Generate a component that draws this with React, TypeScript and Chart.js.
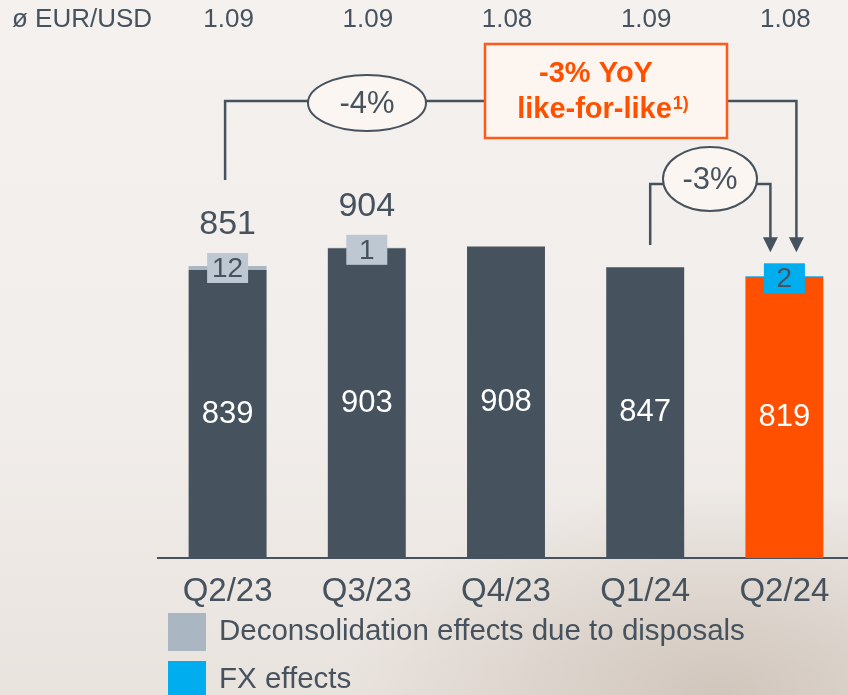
import React, { useEffect, useRef } from "react";
import { Chart, registerables } from "chart.js";
Chart.register(...registerables);

const categories = ["Q2/23", "Q3/23", "Q4/23", "Q1/24", "Q2/24"];
const fxRates = ["1.09", "1.09", "1.08", "1.09", "1.08"];
const fxRateTitle = "ø EUR/USD";
const baseValues = [839, 903, 908, 847, 819];
const deconsolidation = [12, 1, 0, 0, 0];
const fxEffects = [0, 0, 0, 0, 2];
const showTotal = [true, true, false, false, false];
const yoyChange = "-4%";
const qoqChange = "-3%";
const lflLine1 = "-3% YoY";
const lflLine2 = "like-for-like";
const lflNote = "1)";
const legendLabels = ["Deconsolidation effects due to disposals", "FX effects"];

const DARK = "#46535e";
const ORANGE = "#ff5000";
const GREY = "#aab6c1";
const GREY_BOX = "#bec8d2";
const BLUE = "#1aa9ea";
const BLUE_BOX = "#00adef";
const FONT = "'Liberation Sans', Arial, sans-serif";

const overlayPlugin = {
  id: "overlay",
  afterDatasetsDraw(chart: any) {
    const { ctx, scales } = chart;
    const x = scales.x;
    const y = scales.y;
    const xs = categories.map((_, i) => x.getPixelForValue(i));
    ctx.save();
    ctx.textAlign = "center";
    ctx.textBaseline = "middle";

    // FX rate row
    ctx.fillStyle = DARK;
    ctx.font = `26px ${FONT}`;
    ctx.textAlign = "left";
    ctx.fillText(fxRateTitle, 12, 20);
    ctx.textAlign = "center";
    fxRates.forEach((r, i) => ctx.fillText(r, xs[i] + 1, 20));

    // inside labels
    const meta = chart.getDatasetMeta(0);
    ctx.font = `31px ${FONT}`;
    ctx.fillStyle = "#ffffff";
    meta.data.forEach((bar: any, i: number) => {
      ctx.fillText(String(baseValues[i]), bar.x, (bar.y + bar.base) / 2);
    });

    // effect boxes
    const drawBox = (i: number, val: number, total: number, fill: string) => {
      const top = y.getPixelForValue(total);
      const cy = top + 2;
      ctx.fillStyle = fill;
      ctx.fillRect(xs[i] - 20.5, cy - 15, 41, 30);
      ctx.fillStyle = DARK;
      ctx.font = `28px ${FONT}`;
      ctx.fillText(String(val), xs[i], cy + 1);
    };
    categories.forEach((_, i) => {
      if (deconsolidation[i] > 0)
        drawBox(i, deconsolidation[i], baseValues[i] + deconsolidation[i], GREY_BOX);
      if (fxEffects[i] > 0)
        drawBox(i, fxEffects[i], baseValues[i] + deconsolidation[i] + fxEffects[i], BLUE_BOX);
    });

    // totals
    ctx.fillStyle = DARK;
    ctx.font = `34px ${FONT}`;
    categories.forEach((_, i) => {
      if (!showTotal[i]) return;
      const total = baseValues[i] + deconsolidation[i] + fxEffects[i];
      ctx.fillText(String(total), xs[i], y.getPixelForValue(total) - 41);
    });

    // connectors
    const last = categories.length - 1;
    const lastTop = y.getPixelForValue(baseValues[last] + deconsolidation[last] + fxEffects[last]);
    const arrowTip = lastTop - 24;
    ctx.strokeStyle = DARK;
    ctx.lineWidth = 2.5;
    ctx.lineJoin = "miter";
    const lineY = 101;
    const xA = xs[0] - 2.5;
    const xB = xs[last] + 12;
    ctx.beginPath();
    ctx.moveTo(xA, 180);
    ctx.lineTo(xA, lineY);
    ctx.lineTo(xB, lineY);
    ctx.lineTo(xB, arrowTip - 14);
    ctx.stroke();

    const lineY2 = 184;
    const xC = xs[3] + 5;
    const xD = xs[last] - 14;
    ctx.beginPath();
    ctx.moveTo(xC, 245);
    ctx.lineTo(xC, lineY2);
    ctx.lineTo(xD, lineY2);
    ctx.lineTo(xD, arrowTip - 14);
    ctx.stroke();

    const arrow = (ax: number) => {
      ctx.fillStyle = DARK;
      ctx.beginPath();
      ctx.moveTo(ax - 7.5, arrowTip - 15);
      ctx.lineTo(ax + 7.5, arrowTip - 15);
      ctx.lineTo(ax, arrowTip);
      ctx.closePath();
      ctx.fill();
    };
    arrow(xB);
    arrow(xD);

    // ellipses
    const ellipse = (cx: number, cy: number, rx: number, ry: number, text: string) => {
      ctx.beginPath();
      ctx.ellipse(cx, cy, rx, ry, 0, 0, Math.PI * 2);
      ctx.fillStyle = "#fcf6f2";
      ctx.fill();
      ctx.lineWidth = 2;
      ctx.strokeStyle = DARK;
      ctx.stroke();
      ctx.fillStyle = DARK;
      ctx.font = `31px ${FONT}`;
      ctx.fillText(text, cx, cy + 1);
    };
    ellipse(367, 103, 59, 28, yoyChange);
    ellipse(710, 179, 47, 32, qoqChange);

    // like-for-like box
    ctx.fillStyle = "#fdf5f0";
    ctx.fillRect(485, 44, 242, 94);
    ctx.strokeStyle = "#ff5a1a";
    ctx.lineWidth = 2.5;
    ctx.strokeRect(485, 44, 242, 94);
    ctx.fillStyle = ORANGE;
    ctx.font = `bold 29px ${FONT}`;
    ctx.fillText(lflLine1, 596, 74);
    const w2 = ctx.measureText(lflLine2).width;
    ctx.font = `bold 18px ${FONT}`;
    const wn = ctx.measureText(lflNote).width;
    const start = 603 - (w2 + wn + 1) / 2;
    ctx.textAlign = "left";
    ctx.font = `bold 29px ${FONT}`;
    ctx.fillText(lflLine2, start, 110);
    ctx.font = `bold 18px ${FONT}`;
    ctx.fillText(lflNote, start + w2 + 1, 104);

    // legend
    const legendColors = [GREY, BLUE_BOX];
    legendLabels.forEach((lab, i) => {
      const top = 613 + i * 48;
      ctx.fillStyle = legendColors[i];
      ctx.fillRect(168, top, 38, 38);
      ctx.fillStyle = DARK;
      ctx.font = `29.5px ${FONT}`;
      ctx.textAlign = "left";
      ctx.fillText(lab, 219, top + 19);
    });
    ctx.restore();
  },
};

export default function App() {
  const ref = useRef<HTMLCanvasElement>(null);
  useEffect(() => {
    const canvas = ref.current!;
    const chart = new Chart(canvas, {
      type: "bar",
      data: {
        labels: categories,
        datasets: [
          {
            label: "Base",
            data: baseValues,
            backgroundColor: baseValues.map((_, i) => (i === baseValues.length - 1 ? ORANGE : DARK)),
            borderWidth: 0,
            barPercentage: 0.56,
            categoryPercentage: 1,
          },
          {
            label: legendLabels[0],
            data: deconsolidation,
            backgroundColor: GREY,
            borderWidth: 0,
            barPercentage: 0.56,
            categoryPercentage: 1,
          },
          {
            label: legendLabels[1],
            data: fxEffects,
            backgroundColor: BLUE,
            borderWidth: 0,
            barPercentage: 0.56,
            categoryPercentage: 1,
          },
        ],
      },
      options: {
        animation: false,
        responsive: false,
        maintainAspectRatio: false,
        layout: { padding: { left: 158, right: 2, top: 9, bottom: 0 } },
        plugins: { legend: { display: false }, tooltip: { enabled: false } },
        scales: {
          x: {
            stacked: true,
            grid: { display: false },
            border: { display: true, color: DARK, width: 2 },
            ticks: { color: DARK, font: { family: FONT, size: 33 }, padding: 6 },
            afterFit: (s: any) => {
              s.height = 137;
            },
          },
          y: {
            stacked: true,
            display: false,
            min: 0,
            max: 1600,
          },
        },
      },
      plugins: [overlayPlugin],
    });
    return () => chart.destroy();
  }, []);
  return (
    <div
      style={{
        position: "fixed",
        left: 0,
        top: 0,
        width: 848,
        height: 695,
        overflow: "hidden",
        background:
          "radial-gradient(ellipse 45% 30% at 85% 100%, rgba(200,188,176,0.75), rgba(200,188,176,0) 100%), linear-gradient(180deg, #f4f1ee 0%, #f1edea 60%, #e9e3de 100%)",
      }}
    >
      <canvas ref={ref} width={856} height={695} style={{ display: "block", width: 856, height: 695 }} />
    </div>
  );
}
